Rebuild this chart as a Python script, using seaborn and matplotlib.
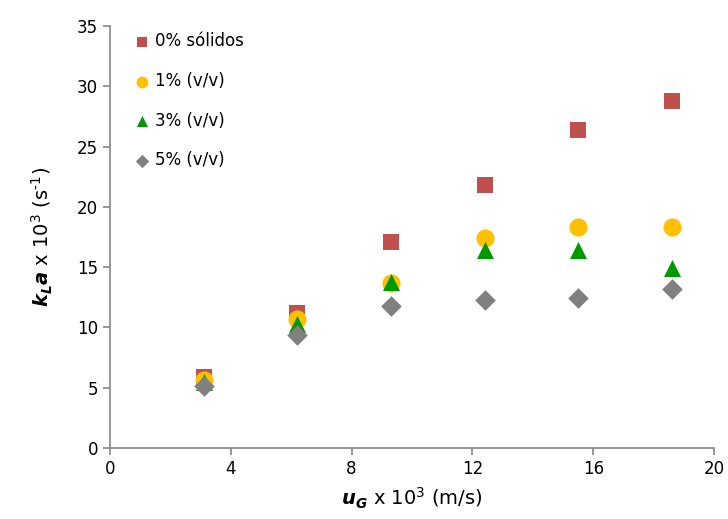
import numpy as np
import pandas as pd
import seaborn as sns
import matplotlib.pyplot as plt

# superficial gas velocity x 10^3 (m/s)
ug = [3.1, 6.2, 9.3, 12.4, 15.5, 18.6]

# kLa x 10^3 (1/s) per solids loading
kla_0 = [5.9, 11.2, 17.1, 21.8, 26.4, 28.8]
kla_1 = [5.6, 10.7, 13.7, 17.4, 18.3, 18.3]
kla_3 = [5.5, 10.3, 13.8, 16.4, 16.4, 14.9]
kla_5 = [5.1, 9.4, 11.8, 12.3, 12.4, 13.2]

series_names = ['0% sólidos', '1% (v/v)', '3% (v/v)', '5% (v/v)']
colors = ['#C0504D', '#FFC000', '#009900', '#808080']
marker_list = ['s', 'o', '^', 'D']

df = pd.DataFrame({
    'ug': ug * 4,
    'kla': kla_0 + kla_1 + kla_3 + kla_5,
    'serie': np.repeat(series_names, len(ug)),
})

sns.set_style('white')
plt.rcParams['font.family'] = ['DejaVu Sans']
plt.rcParams['text.color'] = 'black'
plt.rcParams['axes.labelcolor'] = 'black'
plt.rcParams['mathtext.fontset'] = 'custom'
plt.rcParams['mathtext.rm'] = 'DejaVu Sans'
plt.rcParams['mathtext.bf'] = 'DejaVu Sans:italic:bold'

fig = plt.figure(figsize=(7.28, 5.19), dpi=100)
ax = fig.add_axes([0.151, 0.137, 0.830, 0.813])

sizes = {'0% sólidos': 130, '1% (v/v)': 170, '3% (v/v)': 150, '5% (v/v)': 110}
for name, col, mk in zip(series_names, colors, marker_list):
    sub = df[df['serie'] == name]
    sns.scatterplot(data=sub, x='ug', y='kla', color=col, marker=mk,
                    s=sizes[name], linewidth=0, ax=ax, label=name, zorder=3)

ax.set_xlim(0, 20)
ax.set_ylim(0, 35)
ax.set_xticks([0, 4, 8, 12, 16, 20])
ax.set_yticks(range(0, 36, 5))

for side in ['top', 'right']:
    ax.spines[side].set_visible(False)
for side in ['left', 'bottom']:
    ax.spines[side].set_color('#868686')
    ax.spines[side].set_linewidth(1.2)
ax.tick_params(axis='both', direction='out', length=5, width=1.2,
               color='#868686', labelsize=12, labelcolor='black',
               left=True, bottom=True)

ax.set_xlabel(r'$\mathbf{u_G}$ x 10$^3$ (m/s)', fontsize=14, labelpad=6)
ax.set_ylabel('$\\mathbf{k_L a}$ x 10$^3$ (s$^{\u2011 1}$)', fontsize=14, labelpad=16)

leg = ax.legend(loc='upper left', frameon=False, fontsize=12, markerscale=0.65,
                handletextpad=-0.2, labelspacing=1.3, borderaxespad=0.0,
                borderpad=0.0, bbox_to_anchor=(0.025, 0.985))

fig.savefig('out.png', dpi=100)
